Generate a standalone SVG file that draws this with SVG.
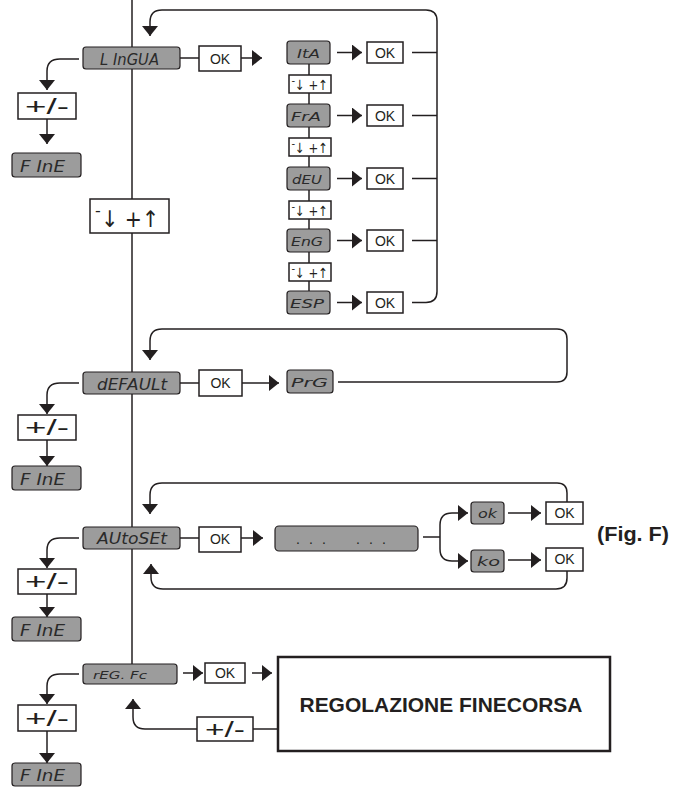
<svg xmlns="http://www.w3.org/2000/svg" width="674" height="787" viewBox="0 0 674 787">
<style>
.ln{stroke:#231f20;stroke-width:1.5;fill:none}
.disp{fill:#9c9c9c;stroke:#231f20;stroke-width:1.2}
.box{fill:#fff;stroke:#231f20;stroke-width:1.5}
.seg{font-family:"DejaVu Sans",sans-serif;font-style:italic;fill:#2a2a2a}
.ok{font-family:"Liberation Sans",Arial,sans-serif;font-size:14px;fill:#231f20;text-anchor:middle}
.pm{font-family:"Liberation Sans",Arial,sans-serif;font-size:22px;fill:#231f20;text-anchor:middle}
.ar{font-family:"DejaVu Sans",sans-serif;fill:#231f20}
</style>
<defs>
<marker id="ah" markerUnits="userSpaceOnUse" markerWidth="10" markerHeight="16" viewBox="0 0 10 16" refX="10" refY="8" orient="auto"><path d="M0,0 L10,8 L0,16 Z" fill="#231f20"/></marker>
</defs>
<rect width="674" height="787" fill="#fff"/>
<g id="connectors">
<line class="ln" x1="132" y1="0" x2="132" y2="664"/>
<path class="ln" d="M412,302.5 L426,302.5 Q437,302.5 437,291.5 L437,21 Q437,10 426,10 L162,10 Q150,10 150,22 L150,36" marker-end="url(#ah)"/>
<line class="ln" x1="180" y1="58" x2="199" y2="58"/>
<line class="ln" x1="241" y1="58" x2="262" y2="58" marker-end="url(#ah)"/>
<path class="ln" d="M79,59 L60,59 Q47,59 47,71 L47,90" marker-end="url(#ah)"/>
<line class="ln" x1="47" y1="119" x2="47" y2="144" marker-end="url(#ah)"/>
<line class="ln" x1="309" y1="64" x2="309" y2="291"/>
<line class="ln" x1="337" y1="52.5" x2="362" y2="52.5" marker-end="url(#ah)"/>
<line class="ln" x1="337" y1="115.5" x2="362" y2="115.5" marker-end="url(#ah)"/>
<line class="ln" x1="337" y1="178.5" x2="362" y2="178.5" marker-end="url(#ah)"/>
<line class="ln" x1="337" y1="240.5" x2="362" y2="240.5" marker-end="url(#ah)"/>
<line class="ln" x1="337" y1="302.5" x2="362" y2="302.5" marker-end="url(#ah)"/>
<line class="ln" x1="412" y1="52.5" x2="437" y2="52.5"/>
<line class="ln" x1="412" y1="115.5" x2="437" y2="115.5"/>
<line class="ln" x1="412" y1="178.5" x2="437" y2="178.5"/>
<line class="ln" x1="412" y1="240.5" x2="437" y2="240.5"/>
<path class="ln" d="M338,382 L557,382 Q567,382 567,372 L567,339 Q567,329 557,329 L162,329 Q150,329 150,341 L150,360" marker-end="url(#ah)"/>
<line class="ln" x1="180" y1="383" x2="199" y2="383"/>
<line class="ln" x1="242" y1="383" x2="279" y2="383" marker-end="url(#ah)"/>
<path class="ln" d="M79,383 L60,383 Q47,383 47,395 L47,414" marker-end="url(#ah)"/>
<line class="ln" x1="47" y1="440" x2="47" y2="466" marker-end="url(#ah)"/>
<path class="ln" d="M567,502 L567,493 Q567,483 557,483 L162,483 Q150,483 150,495 L150,514" marker-end="url(#ah)"/>
<path class="ln" d="M567,571 L567,578 Q567,589 556,589 L163,589 Q151,589 151,577 L151,564" marker-end="url(#ah)"/>
<line class="ln" x1="180" y1="538" x2="199" y2="538"/>
<line class="ln" x1="241" y1="538" x2="263" y2="538" marker-end="url(#ah)"/>
<line class="ln" x1="423" y1="537" x2="440" y2="537"/>
<path class="ln" d="M440,537 L440,525 Q440,513 452,513 L468,513" marker-end="url(#ah)"/>
<path class="ln" d="M440,537 L440,549 Q440,561 452,561 L468,561" marker-end="url(#ah)"/>
<line class="ln" x1="508" y1="513" x2="541" y2="513" marker-end="url(#ah)"/>
<line class="ln" x1="508" y1="560" x2="541" y2="560" marker-end="url(#ah)"/>
<path class="ln" d="M79,538 L60,538 Q47,538 47,550 L47,568" marker-end="url(#ah)"/>
<line class="ln" x1="47" y1="594" x2="47" y2="617" marker-end="url(#ah)"/>
<line class="ln" x1="183" y1="673" x2="203" y2="673" marker-end="url(#ah)"/>
<line class="ln" x1="252" y1="673" x2="272" y2="673" marker-end="url(#ah)"/>
<line class="ln" x1="253" y1="729" x2="278" y2="729"/>
<path class="ln" d="M197,729 L145,729 Q133,729 133,717 L133,699" marker-end="url(#ah)"/>
<path class="ln" d="M79,674 L60,674 Q47,674 47,686 L47,704" marker-end="url(#ah)"/>
<line class="ln" x1="47" y1="731" x2="47" y2="763" marker-end="url(#ah)"/>
</g>

<g id="lingua"><rect class="disp" x="83" y="47" width="97" height="22" rx="3"/><text class="seg" x="100" y="65" font-size="15" textLength="59" lengthAdjust="spacingAndGlyphs">L InGUA</text></g>
<g id="lingua-ok"><rect class="box" x="199" y="46" width="42" height="25"/><text class="ok" x="220" y="64">OK</text></g>
<g id="lingua-pm"><rect class="box" x="18" y="93" width="58" height="26"/><text class="pm" x="47" y="114" textLength="44" lengthAdjust="spacingAndGlyphs">+/-</text></g>
<g id="lingua-fine"><rect class="disp" x="12" y="153" width="69" height="24" rx="3"/><text class="seg" x="20" y="172" font-size="15" textLength="45" lengthAdjust="spacingAndGlyphs">F InE</text></g>

<g id="nav-main"><rect class="box" x="90" y="199" width="79" height="34"/><text class="ar" x="95" y="216" font-size="16">-</text><text class="ar" x="101" y="227" font-size="23" textLength="58" lengthAdjust="spacingAndGlyphs">↓ +↑</text></g>

<g id="ita"><rect class="disp" x="287" y="41" width="43" height="23" rx="3"/><text class="seg" x="297" y="57.5" font-size="13" textLength="23" lengthAdjust="spacingAndGlyphs">ItA</text></g>
<g id="nav1"><rect class="box" x="289" y="75" width="42" height="18"/><text class="ar" x="291.5" y="84" font-size="10">-</text><text class="ar" x="295" y="90" font-size="14" textLength="33" lengthAdjust="spacingAndGlyphs">↓ +↑</text></g>
<g id="fra"><rect class="disp" x="287" y="104" width="43" height="23" rx="3"/><text class="seg" x="291" y="120.5" font-size="13" textLength="30" lengthAdjust="spacingAndGlyphs">FrA</text></g>
<g id="nav2"><rect class="box" x="289" y="138" width="42" height="18"/><text class="ar" x="291.5" y="147" font-size="10">-</text><text class="ar" x="295" y="153" font-size="14" textLength="33" lengthAdjust="spacingAndGlyphs">↓ +↑</text></g>
<g id="deu"><rect class="disp" x="287" y="167" width="43" height="23" rx="3"/><text class="seg" x="292" y="183.5" font-size="13" textLength="30" lengthAdjust="spacingAndGlyphs">dEU</text></g>
<g id="nav3"><rect class="box" x="289" y="201" width="42" height="18"/><text class="ar" x="291.5" y="210" font-size="10">-</text><text class="ar" x="295" y="216" font-size="14" textLength="33" lengthAdjust="spacingAndGlyphs">↓ +↑</text></g>
<g id="eng"><rect class="disp" x="287" y="229" width="43" height="23" rx="3"/><text class="seg" x="291" y="245.5" font-size="13" textLength="32" lengthAdjust="spacingAndGlyphs">EnG</text></g>
<g id="nav4"><rect class="box" x="289" y="263" width="42" height="18"/><text class="ar" x="291.5" y="272" font-size="10">-</text><text class="ar" x="295" y="278" font-size="14" textLength="33" lengthAdjust="spacingAndGlyphs">↓ +↑</text></g>
<g id="esp"><rect class="disp" x="287" y="291" width="43" height="23" rx="3"/><text class="seg" x="290" y="307.5" font-size="13" textLength="34" lengthAdjust="spacingAndGlyphs">ESP</text></g>
<g id="ok-ita"><rect class="box" x="367" y="42" width="36" height="21"/><text class="ok" x="385" y="57.5">OK</text></g>
<g id="ok-fra"><rect class="box" x="367" y="105" width="36" height="21"/><text class="ok" x="385" y="120.5">OK</text></g>
<g id="ok-deu"><rect class="box" x="367" y="168" width="36" height="21"/><text class="ok" x="385" y="183.5">OK</text></g>
<g id="ok-eng"><rect class="box" x="367" y="230" width="36" height="21"/><text class="ok" x="385" y="245.5">OK</text></g>
<g id="ok-esp"><rect class="box" x="367" y="292" width="36" height="21"/><text class="ok" x="385" y="307.5">OK</text></g>

<g id="default"><rect class="disp" x="83" y="372" width="97" height="22" rx="3"/><text class="seg" x="97" y="390" font-size="15" textLength="70" lengthAdjust="spacingAndGlyphs">dEFAULt</text></g>
<g id="default-ok"><rect class="box" x="199" y="370" width="43" height="26"/><text class="ok" x="220.5" y="388">OK</text></g>
<g id="prg"><rect class="disp" x="287" y="370" width="46" height="23" rx="3"/><text class="seg" x="291" y="386.5" font-size="13" textLength="37" lengthAdjust="spacingAndGlyphs">PrG</text></g>
<g id="default-pm"><rect class="box" x="18" y="415" width="58" height="25"/><text class="pm" x="47" y="435" textLength="44" lengthAdjust="spacingAndGlyphs">+/-</text></g>
<g id="default-fine"><rect class="disp" x="12" y="466" width="69" height="24" rx="3"/><text class="seg" x="20" y="485" font-size="15" textLength="45" lengthAdjust="spacingAndGlyphs">F InE</text></g>

<g id="autoset"><rect class="disp" x="83" y="527" width="97" height="22" rx="3"/><text class="seg" x="97" y="544" font-size="15" textLength="70" lengthAdjust="spacingAndGlyphs">AUtoSEt</text></g>
<g id="autoset-ok"><rect class="box" x="199" y="527" width="42" height="25"/><text class="ok" x="220" y="544">OK</text></g>
<g id="progress"><rect class="disp" x="275" y="526" width="143" height="25" rx="4"/><text class="ok" x="296" y="544" style="text-anchor:start" textLength="30" lengthAdjust="spacing">. . .</text><text class="ok" x="356" y="544" style="text-anchor:start" textLength="30" lengthAdjust="spacing">. . .</text></g>
<g id="ok-result"><rect class="disp" x="471" y="502" width="33" height="22" rx="3"/><text class="seg" x="478" y="518" font-size="13" textLength="19" lengthAdjust="spacingAndGlyphs">ok</text></g>
<g id="ko-result"><rect class="disp" x="471" y="550" width="33" height="22" rx="3"/><text class="seg" x="477" y="566" font-size="13" textLength="23" lengthAdjust="spacingAndGlyphs">ko</text></g>
<g id="ok-ok"><rect class="box" x="546" y="502" width="37" height="22"/><text class="ok" x="564.5" y="518">OK</text></g>
<g id="ko-ok"><rect class="box" x="546" y="548" width="37" height="23"/><text class="ok" x="564.5" y="564">OK</text></g>
<g id="autoset-pm"><rect class="box" x="18" y="569" width="58" height="25"/><text class="pm" x="47" y="589" textLength="44" lengthAdjust="spacingAndGlyphs">+/-</text></g>
<g id="autoset-fine"><rect class="disp" x="12" y="617" width="69" height="24" rx="3"/><text class="seg" x="20" y="636" font-size="15" textLength="45" lengthAdjust="spacingAndGlyphs">F InE</text></g>
<text x="597" y="541" font-family="Liberation Sans,Arial,sans-serif" font-weight="bold" font-size="20" fill="#231f20" textLength="72" lengthAdjust="spacingAndGlyphs">(Fig. F)</text>

<g id="regfc"><rect class="disp" x="83" y="664" width="94" height="20" rx="3"/><text class="seg" x="93" y="679" font-size="11" textLength="54" lengthAdjust="spacingAndGlyphs">rEG. Fc</text></g>
<g id="regfc-ok"><rect class="box" x="205" y="663" width="40" height="20"/><text class="ok" x="225" y="678">OK</text></g>
<g id="regolazione"><rect x="278" y="657" width="332" height="94" fill="#fff" stroke="#231f20" stroke-width="2.5"/><text x="441" y="712" font-family="Liberation Sans,Arial,sans-serif" font-weight="bold" font-size="20" fill="#231f20" text-anchor="middle" textLength="283" lengthAdjust="spacingAndGlyphs">REGOLAZIONE FINECORSA</text></g>
<g id="regfc-pm2"><rect class="box" x="197" y="717" width="56" height="24"/><text class="pm" x="225" y="737" textLength="40" lengthAdjust="spacingAndGlyphs">+/-</text></g>
<g id="regfc-pm"><rect class="box" x="18" y="705" width="58" height="26"/><text class="pm" x="47" y="726" textLength="44" lengthAdjust="spacingAndGlyphs">+/-</text></g>
<g id="regfc-fine"><rect class="disp" x="12" y="763" width="69" height="23" rx="3"/><text class="seg" x="20" y="781" font-size="15" textLength="45" lengthAdjust="spacingAndGlyphs">F InE</text></g>
</svg>
